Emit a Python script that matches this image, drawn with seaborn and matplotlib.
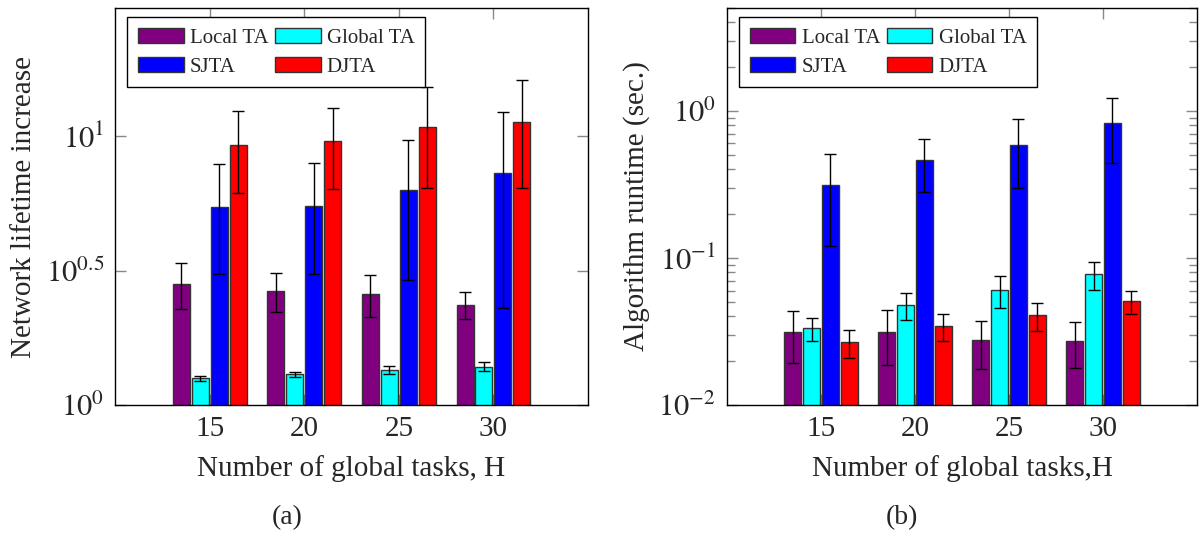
import numpy as np
import pandas as pd
import matplotlib
matplotlib.use("Agg")
import matplotlib.pyplot as plt
import matplotlib.ticker as mticker
import seaborn as sns

# ---------------- data ----------------
tasks = ["15", "20", "25", "30"]
methods = ["Local TA", "Global TA", "SJTA", "DJTA"]
colors = ["#800080", "#00FFFF", "#0000FF", "#FF0000"]

# (a) Network lifetime increase
life_local = [2.83, 2.65, 2.58, 2.36]
life_global = [1.257, 1.30, 1.347, 1.39]
life_sjta = [5.47, 5.50, 6.32, 7.32]
life_djta = [9.25, 9.58, 10.87, 11.31]
life_local_err = [0.55, 0.44, 0.46, 0.27]
life_global_err = [0.026, 0.030, 0.045, 0.053]
life_sjta_err = [2.39, 2.42, 3.39, 5.02]
life_djta_err = [3.12, 3.19, 4.43, 4.87]

# (b) Algorithm runtime (sec.)
rt_local = [0.0314, 0.0314, 0.0275, 0.0274]
rt_global = [0.0333, 0.0481, 0.0605, 0.0774]
rt_sjta = [0.3126, 0.462, 0.587, 0.833]
rt_djta = [0.0267, 0.0343, 0.0407, 0.0507]
rt_local_err = [0.012, 0.0127, 0.010, 0.0095]
rt_global_err = [0.006, 0.010, 0.015, 0.017]
rt_sjta_err = [0.193, 0.182, 0.29, 0.39]
rt_djta_err = [0.0059, 0.007, 0.009, 0.0092]

# ---------------- style ----------------
sns.set_style("ticks")
plt.rcParams["font.family"] = ["Liberation Serif", "DejaVu Serif"]
plt.rcParams["mathtext.fontset"] = "stix"

fig = plt.figure(figsize=(12.01, 5.37), dpi=100)
axL = fig.add_axes([0.0958, 0.2458, 0.3938, 0.7392])
axR = fig.add_axes([0.6053, 0.2458, 0.3913, 0.7392])


def draw(ax, vals, errs, ylim):
    rows = []
    for m, v in zip(methods, vals):
        for t, y in zip(tasks, v):
            rows.append({"H": t, "method": m, "value": y})
    df = pd.DataFrame(rows)
    ax.set_yscale("log")
    sns.barplot(data=df, x="H", y="value", hue="method", order=tasks,
                hue_order=methods, palette=colors, width=0.8, gap=0.1,
                errorbar=None, edgecolor="#333333", linewidth=1.0,
                saturation=1, ax=ax, legend=False)
    for cont, v, e in zip(ax.containers, vals, errs):
        xs = [p.get_x() + p.get_width() / 2 for p in cont.patches]
        ax.errorbar(xs, v, yerr=e, fmt="none", ecolor="black",
                    elinewidth=1.0, capsize=4.5, capthick=1.0, zorder=4)
    ax.set_xlim(-1, 4)
    ax.set_ylim(*ylim)
    for s in ax.spines.values():
        s.set_visible(True)
        s.set_color("black")
        s.set_linewidth(1.0)
    ax.tick_params(axis="both", which="major", direction="in", top=True,
                   right=True, length=8, width=1, color="#888888", pad=8)
    ax.tick_params(axis="x", which="major", labelsize=21)
    ax.tick_params(axis="y", which="major", labelsize=22)
    ax.tick_params(axis="both", which="minor", direction="in", top=True,
                   right=True, length=5.5, width=1, color="#888888")
    ax.tick_params(axis="x", which="minor", length=0)
    # row-wise legend order for a 2-column legend (matplotlib fills by column)
    order = [0, 2, 1, 3]
    leg = ax.legend([ax.containers[i] for i in order],
                    [methods[i] for i in order], ncol=2, loc="upper left",
                    bbox_to_anchor=(0.025, 0.977), borderaxespad=0,
                    fontsize=15, frameon=True, fancybox=False,
                    edgecolor="black", framealpha=1, handlelength=2.2,
                    handleheight=0.75, handletextpad=0.3,
                    columnspacing=0.3, labelspacing=0.42, borderpad=0.52)
    leg.get_frame().set_linewidth(1.0)
    leg.set_zorder(10)
    ax.set_xlabel("")


draw(axL, [life_local, life_global, life_sjta, life_djta],
     [life_local_err, life_global_err, life_sjta_err, life_djta_err],
     (1, 30))
axL.yaxis.set_major_locator(mticker.FixedLocator([1, 10 ** 0.5, 10]))
axL.yaxis.set_minor_locator(mticker.NullLocator())
axL.set_yticklabels(["$10^{0}$", "$10^{0.5}$", "$10^{1}$"])
axL.set_ylabel("Network lifetime increase", fontsize=21, labelpad=6)
axL.set_xlabel("Number of global tasks, H", fontsize=21, labelpad=9)

draw(axR, [rt_local, rt_global, rt_sjta, rt_djta],
     [rt_local_err, rt_global_err, rt_sjta_err, rt_djta_err],
     (0.01, 5))
axR.yaxis.set_major_locator(mticker.FixedLocator([0.01, 0.1, 1]))
axR.yaxis.set_minor_locator(mticker.LogLocator(base=10, subs=np.arange(2, 10)))
axR.yaxis.set_minor_formatter(mticker.NullFormatter())
axR.set_yticklabels(["$10^{-2}$", "$10^{-1}$", "$10^{0}$"])
axR.set_ylabel("Algorithm runtime (sec.)", fontsize=21, labelpad=6)
axR.set_xlabel("Number of global tasks,H", fontsize=21, labelpad=9)

fig.text(0.239, 0.037, "(a)", ha="center", va="center", fontsize=20)
fig.text(0.751, 0.037, "(b)", ha="center", va="center", fontsize=20)

fig.savefig("out.png", dpi=100)
